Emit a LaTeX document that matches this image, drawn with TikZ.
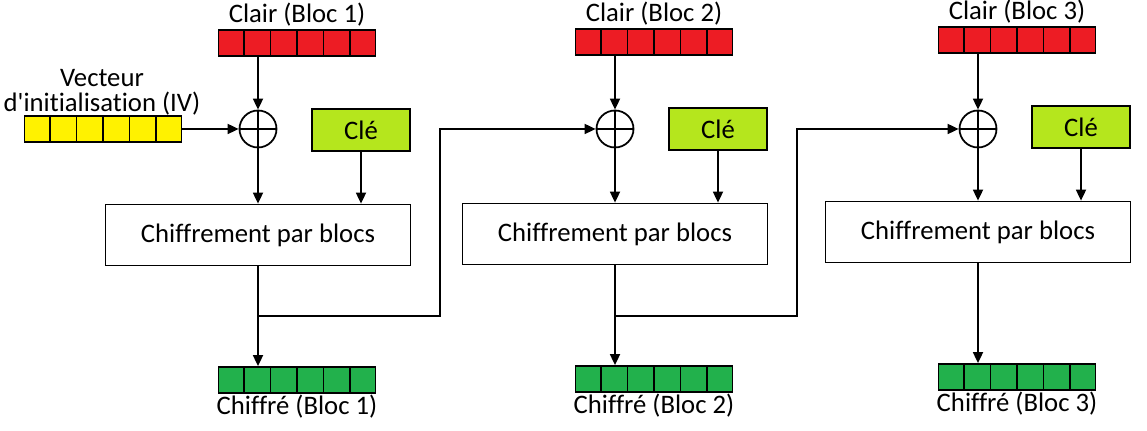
\documentclass[tikz,border=0pt]{standalone}
\usepackage{fontspec}
\setmainfont{Carlito}
\newfontfamily\plainfont{Carlito}[Ligatures=NoCommon]
\usetikzlibrary{arrows.meta, calc, positioning}
\definecolor{clairred}{HTML}{ED1C24}
\definecolor{ivyellow}{HTML}{FFF200}
\definecolor{chiffgreen}{HTML}{22B14C}
\definecolor{clelime}{HTML}{B5E61D}

\tikzset{
  bar/.style={draw, minimum width=3.14cm, minimum height=0.52cm, inner sep=0pt},
  xor/.style={circle, draw, minimum size=0.74cm, inner sep=0pt},
  clebox/.style={draw, fill=clelime, minimum width=1.96cm, minimum height=0.84cm},
  cipher/.style={draw, fill=white, minimum width=6.1cm, minimum height=1.22cm},
  lbl/.style={inner sep=0pt}
}

\begin{document}
\begin{tikzpicture}[x=0.02cm, y=-0.02cm, line width=1pt,
    >={Triangle[length=2.2mm, width=2mm]},
    every node/.style={font=\plainfont\fontsize{15.2}{14.2}\selectfont}]
        \useasboundingbox (0,0) rectangle (1147,431);

        % vecteur d'initialisation
        \node[lbl, align=center] (ivtxt) at (102,92) {Vecteur\\d'initialisation (IV)};
        \node[bar, fill=ivyellow] (iv) at (103,129) {};
        \foreach \i in {1,...,5}
            \draw ($(iv.south west)!\i/6!(iv.south east)$) -- ($(iv.north west)!\i/6!(iv.north east)$);

        % trois blocs
        \foreach \n/\cx/\dy in {1/258/0, 2/615/-1, 3/978/-3} {
            \node[lbl] (ct\n) at (\cx+39,15+\dy) {Clair (Bloc \n)};
            \node[bar, fill=clairred] (p\n) at (\cx+39,43+\dy) {};
            \node[xor] (x\n) at (\cx,129) {};
            \draw (x\n.north) -- (x\n.south) (x\n.west) -- (x\n.east);
            \node[clebox] (k\n) at (\cx+103,130+\dy) {Clé};
            \node[cipher] (c\n) at (\cx,235+\dy) {Chiffrement par blocs};
            \node[bar, fill=chiffgreen] (g\n) at (\cx+39,380+\dy) {};
            \node[lbl] (gt\n) at (\cx+39,407+\dy) {Chiffré (Bloc \n)};
            \foreach \i in {1,...,5} {
                \draw ($(p\n.south west)!\i/6!(p\n.south east)$) -- ($(p\n.north west)!\i/6!(p\n.north east)$);
                \draw ($(g\n.south west)!\i/6!(g\n.south east)$) -- ($(g\n.north west)!\i/6!(g\n.north east)$);
            }
            \coordinate (j\n) at (\cx,316);
            \coordinate (t\n) at (\cx+182,316);
            \draw[->] (p\n.south -| x\n) -- (x\n.north);
            \draw[->] (x\n.south) -- (x\n.south |- c\n.north);
            \draw[->] (k\n.south) -- (k\n.south |- c\n.north);
            \draw[->] (c\n.south) -- (c\n.south |- g\n.north);
        }

        % chainage
        \draw[->] (iv.east) -- (x1.west);
        \draw[->] (j1) -- (t1) |- (x2.west);
        \draw[->] (j2) -- (t2) |- (x3.west);
    \end{tikzpicture}
\end{document}
